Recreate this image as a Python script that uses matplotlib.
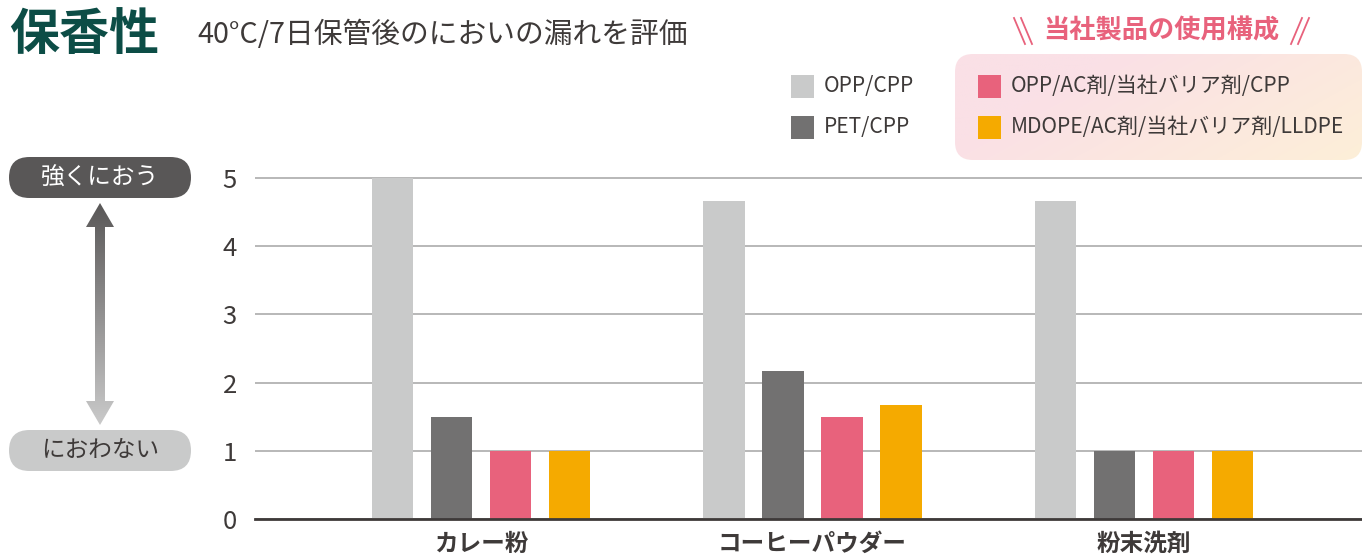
import numpy as np
import matplotlib
matplotlib.use("Agg")
import matplotlib.pyplot as plt
from matplotlib.patches import FancyBboxPatch, Polygon, Rectangle
from matplotlib.colors import to_rgb

plt.rcParams['font.family'] = ['Noto Sans CJK JP', 'DejaVu Sans']

# data
categories = ['カレー粉', 'コーヒーパウダー', '粉末洗剤']
series = ['OPP/CPP', 'PET/CPP', 'OPP/AC剤/当社バリア剤/CPP', 'MDOPE/AC剤/当社バリア剤/LLDPE']
values = [
    [5.0, 4.67, 4.67],   # OPP/CPP
    [1.5, 2.17, 1.0],    # PET/CPP
    [1.0, 1.5, 1.0],     # OPP/AC剤/当社バリア剤/CPP
    [1.0, 1.67, 1.0],    # MDOPE/AC剤/当社バリア剤/LLDPE
]
yticks = [0, 1, 2, 3, 4, 5]
colors = ['#c9caca', '#727171', '#e8627c', '#f5aa00']

W, H = 1362, 556
fig = plt.figure(figsize=(W / 100, H / 100), dpi=100)

# main chart axes (pixel layout of the reference)
ax = fig.add_axes([255 / W, (H - 519) / H, (1362 - 255) / W, 68.2 * 5.1 / H])
ax.patch.set_alpha(0)
x = np.arange(len(categories))
step, width = 0.178, 0.124
for i, (name, vals) in enumerate(zip(series, values)):
    ax.bar(x + (i - 1.5) * step, vals, width, color=colors[i], label=name, zorder=2)

ax.set_xlim(-0.682, 2.658)
ax.set_ylim(0, 5.1)
ax.set_yticks(yticks)
ax.set_xticks(x)
ax.set_xticklabels(categories, fontsize=17, fontweight='bold', color='#3e3a39')
ax.tick_params(axis='y', length=0, pad=13, labelsize=18.5, labelcolor='#3e3a39')
ax.tick_params(axis='x', length=0, pad=9)
ax.grid(axis='y', color='#ababab', linewidth=1.2, zorder=0)
for s in ['top', 'right', 'left']:
    ax.spines[s].set_visible(False)
ax.spines['bottom'].set_color('#3e3a39')
ax.spines['bottom'].set_linewidth(2)
ax.spines['bottom'].set_zorder(3)

# overlay in pixel coordinates for the decorations
ov = fig.add_axes([0, 0, 1, 1])
ov.set_xlim(0, W)
ov.set_ylim(H, 0)
ov.axis('off')
ov.patch.set_alpha(0)

# titles
ov.text(9, 36, '保香性', fontsize=36, fontweight='bold', color='#0c4d46',
        va='center', ha='left')
ov.text(197, 35, '40°C/7日保管後のにおいの漏れを評価', fontsize=20.7,
        color='#3e3a39', va='center', ha='left')

# pink gradient box for own products
box = FancyBboxPatch((955, 54), 407, 106, boxstyle='round,pad=0,rounding_size=18',
                     facecolor='none', edgecolor='none')
ov.add_patch(box)
c1, c2 = np.array(to_rgb('#fae0e6')), np.array(to_rgb('#fdefd8'))
gx, gy = np.meshgrid(np.linspace(0, 1, 200), np.linspace(0, 1, 60))
t = np.clip((gx * 0.75 + gy * 0.35 - 0.3) / 0.8, 0, 1)[..., None]
img = c1 * (1 - t) + c2 * t
im = ov.imshow(img, extent=(955, 1362, 160, 54), aspect='auto', zorder=1)
im.set_clip_path(box)

ov.text(1161, 31, '当社製品の使用構成', fontsize=18.9, fontweight='bold',
        color='#e8627c', va='center', ha='center')
for x0 in (1014, 1021):
    ov.plot([x0, x0 + 11], [18, 44], color='#e8627c', lw=1.3)
for x0 in (1302, 1309):
    ov.plot([x0, x0 - 11], [18, 44], color='#e8627c', lw=1.3)

# legend entries
leg_pos = [(791, 86), (791, 127), (978, 86), (978, 127)]
for (lx, ly), name, c in zip(leg_pos, series, colors):
    ov.add_patch(Rectangle((lx, ly - 11.5), 23, 23, facecolor=c, edgecolor='none', zorder=2))
    ov.text(lx + 33, ly, name, fontsize=15.1, color='#3e3a39', va='center',
            ha='left', zorder=3)

# left scale indicator
ov.add_patch(FancyBboxPatch((9, 157), 182, 41, boxstyle='round,pad=0,rounding_size=20.5',
                            facecolor='#595757', edgecolor='none'))
ov.text(100, 178, '強くにおう', fontsize=17, color='white', va='center', ha='center')
ov.add_patch(FancyBboxPatch((9, 430), 182, 41, boxstyle='round,pad=0,rounding_size=20.5',
                            facecolor='#c9caca', edgecolor='none'))
ov.text(100, 451, 'におわない', fontsize=17, color='#3e3a39', va='center', ha='center')

arrow = Polygon([(100, 203), (114, 227), (105, 227), (105, 401), (114, 401), (100, 425),
                 (86, 401), (95, 401), (95, 227), (86, 227)], closed=True,
                facecolor='none', edgecolor='none')
ov.add_patch(arrow)
a1, a2 = np.array(to_rgb('#595757')), np.array(to_rgb('#cacaca'))
tt = np.linspace(0, 1, 200)[:, None, None]
agrad = a1 * (1 - tt) + a2 * tt
aim = ov.imshow(np.repeat(agrad, 2, axis=1), extent=(85, 115, 425, 203), aspect='auto')
aim.set_clip_path(arrow)

ov.set_xlim(0, W)
ov.set_ylim(H, 0)

fig.savefig('out.png', dpi=100)
